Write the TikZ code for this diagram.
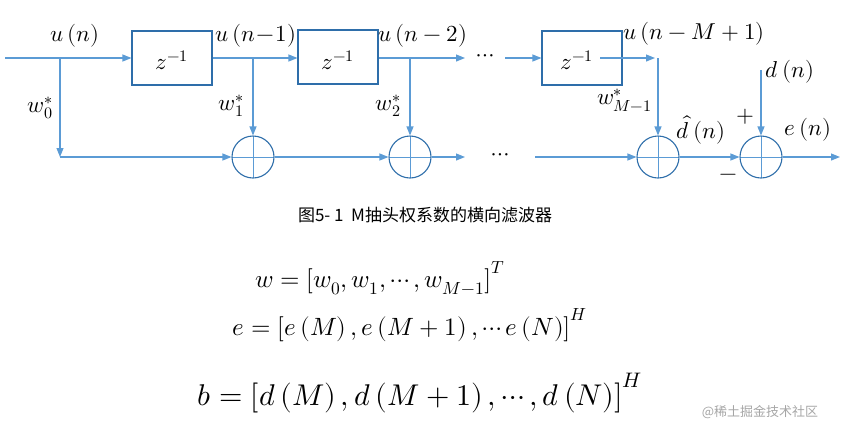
\documentclass[tikz,border=0pt]{standalone}
\usepackage{fontspec}
\usepackage{unicode-math}
\setmainfont{Liberation Serif}
\setmathfont{Latin Modern Math}
\newfontfamily\cjk{Noto Sans CJK SC}
\usetikzlibrary{arrows.meta}
\definecolor{ln}{RGB}{91,155,213}
\definecolor{bx}{RGB}{46,110,170}
\begin{document}
\begin{tikzpicture}[x=1pt,y=-1pt,
  sig/.style={draw=ln,line width=1.1pt,-{Triangle[length=9pt,width=7pt]}},
  delay/.style={draw=bx,line width=1.1pt,minimum width=80pt,minimum height=54pt,inner sep=0pt},
  adder/.style={draw=bx,line width=1.1pt,circle,minimum size=42pt,inner sep=0pt,path picture={\draw[ln,line width=0.8pt] (path picture bounding box.north)--(path picture bounding box.south) (path picture bounding box.west)--(path picture bounding box.east);}},
  lab/.style={font=\fontsize{23}{26}\selectfont,inner sep=0pt},
  eq/.style={font=\fontsize{25}{28}\selectfont,inner sep=0pt}]
\useasboundingbox (0,0) rectangle (849,432);
\node[delay] (d1) at (172,58) {};
\node[delay] (d2) at (338,57) {};
\node[delay] (d3) at (582,58) {};
\node[lab] at (172,60) {$z^{-1}$};
\node[lab] at (338,60) {$z^{-1}$};
\node[lab] at (577,60) {$z^{-1}$};
\node[adder] (a1) at (253,157) {};
\node[adder] (a2) at (410,157) {};
\node[adder] (a3) at (658,157) {};
\node[adder] (a4) at (761,157) {};
\coordinate (in) at (5,58);
\coordinate (t0) at (60,58);
\coordinate (b0) at (60,157);
\coordinate (t1) at (253,58);
\coordinate (t2) at (410,58);
\coordinate (o2) at (465,58);
\coordinate (i3) at (505,58);
\coordinate (s3) at (600,58);
\coordinate (t3) at (655,58);
\coordinate (t3b) at (658,58);
\coordinate (bo2) at (465,157);
\coordinate (bi3) at (535,157);
\coordinate (dn) at (761,70);
\coordinate (out) at (840,157);
\draw[sig] (in) -- (d1.west);
\draw[sig] (t0) -- (b0);
\draw[sig] (b0) -- (a1.west);
\draw[sig] (d1.east |- t1) -- (d2.west |- t1);
\draw[sig] (t1) -- (a1.north);
\draw[sig] (d2.east |- t2) -- (o2);
\draw[sig] (t2) -- (a2.north);
\draw[sig] (i3) -- (d3.west);
\draw[sig] (s3) -- (t3);
\draw[sig] (t3b) -- (a3.north);
\draw[sig] (a1.east) -- (a2.west);
\draw[sig] (a2.east) -- (bo2);
\draw[sig] (bi3) -- (a3.west);
\draw[sig] (a3.east) -- (a4.west);
\draw[sig] (dn) -- (a4.north);
\draw[sig] (a4.east) -- (out);
\node[lab] at (485,58) {$\cdots$};
\node[lab] at (500,157) {$\cdots$};
\node[lab] (un) at (75,36) {$u\left(n\right)$};
\node[lab] (un1) at (256,36) {$u\left(n\!-\!1\right)$};
\node[lab] (un2) at (423,36) {$u\left(n-2\right)$};
\node[lab] (unm) at (694,34) {$u\left(n-M+1\right)$};
\node[lab,anchor=east] at (53,108) {$w_0^*$};
\node[lab,anchor=east] at (244,106) {$w_1^*$};
\node[lab,anchor=east] at (401,106) {$w_2^*$};
\node[lab,anchor=east] at (652,100) {$w_{M-1}^*$};
\node[lab] at (790,72) {$d\left(n\right)$};
\node[lab] at (701,130) {$\hat d\left(n\right)$};
\node[lab] at (808,130) {$e\left(n\right)$};
\node[lab] at (745,117) {$+$};
\node[lab] at (728,177) {$-$};
\node[font=\cjk\fontsize{17}{19}\selectfont,inner sep=0pt] (cap) at (425,215) {图5- 1\ \ M抽头权系数的横向滤波器};
\node[eq] at (380,278) {$w=\left[w_0,w_1,\cdots,w_{M-1}\right]^T$};
\node[eq] at (410,325) {$e=\left[e\left(M\right),e\left(M+1\right),\cdots e\left(N\right)\right]^H$};
\node[font=\fontsize{30}{34}\selectfont,inner sep=0pt] at (420,393) {$b=\left[d\left(M\right),d\left(M+1\right),\cdots,d\left(N\right)\right]^H$};
\node[font=\cjk\fontsize{13}{15}\selectfont,text=gray!70,inner sep=0pt] at (760,412) {@稀土掘金技术社区};
\end{tikzpicture}
\end{document}
